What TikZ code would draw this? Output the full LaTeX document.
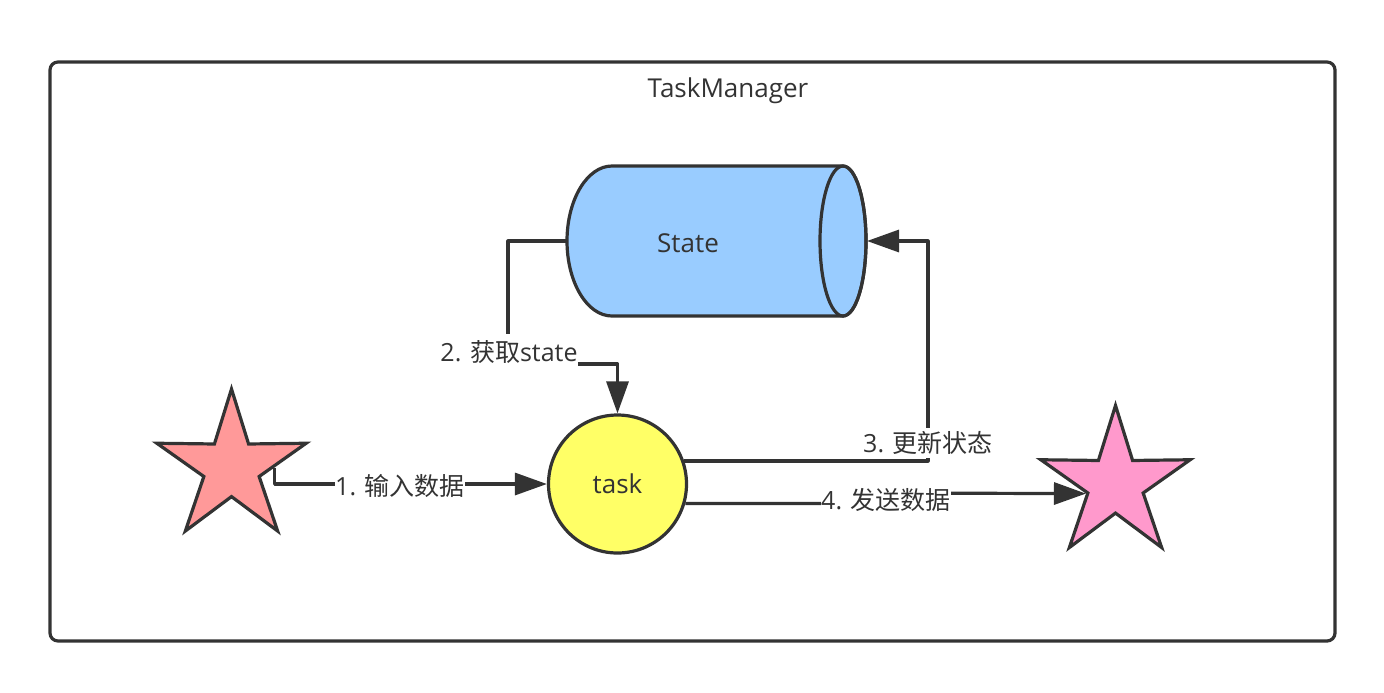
\documentclass[tikz,border=0pt]{standalone}
\usepackage{fontspec}
\setmainfont{Open Sans}
\newfontfamily\cjk{Noto Sans CJK SC}
\usetikzlibrary{arrows.meta,shapes.geometric}
\definecolor{ink}{HTML}{333333}
\definecolor{statefill}{HTML}{99CCFF}
\definecolor{taskfill}{HTML}{FFFF66}
\definecolor{srcfill}{HTML}{FF9999}
\definecolor{dstfill}{HTML}{FF99CC}
\tikzset{
  edge/.style={draw=ink,line width=1.6pt},
  lbl/.style={fill=white,inner xsep=0pt,inner ysep=1.8pt,text=ink,font=\fontsize{12.5}{14}\selectfont},
  starnode/.style={star,star points=5,star point ratio=2.7,minimum size=78.5pt,inner sep=0pt,
    draw=ink,line width=1.6pt,line join=miter},
}
\begin{document}
\begin{tikzpicture}[x=.5pt,y=-.5pt,>={Triangle[length=16pt,width=11pt]},line join=round,
  font=\fontsize{13}{15}\selectfont]
	\useasboundingbox (0,0) rectangle (1384,692);
	\node (tm) [draw=ink,line width=1.6pt,rounded corners=4pt,minimum width=642.5pt,minimum height=289.5pt,inner sep=0pt] at (692.5,351.5) {};
	\node (title) [text=ink] at (728,91) {TaskManager};
	\draw[edge,fill=statefill] (612,166) -- (843,166)
		arc[start angle=-90,end angle=90,x radius=23,y radius=75] -- (612,316)
		arc[start angle=90,end angle=270,x radius=45,y radius=75] -- cycle;
	\draw[edge] (843,241) ellipse[x radius=23,y radius=75];
	\node (state) [minimum width=150pt,minimum height=75pt,inner sep=0pt,outer sep=0pt] at (717,241) {};
	\node (statetxt) [text=ink] at (688,243) {State};
	\node (task) [circle,draw=ink,line width=1.6pt,fill=taskfill,minimum size=69pt,inner sep=0pt,text=ink] at (617.5,484) {task};
	\node (src) [starnode,fill=srcfill] at (231.5,467.5) {};
	\node (dst) [starnode,fill=dstfill] at (1115.5,484) {};
	\coordinate (bend2) at (508,364);
	\coordinate (bend3) at (928,241);
	\coordinate (jog4) at (886,493);
	\draw[edge,->] (src.0) |- (task.west);
	\draw[edge,->] (state.west) -| (bend2) -| (task.north);
	\draw[edge,->] (task.19) -| (bend3) -- (state.east);
	\draw[edge,->] (task.-16) -| (jog4) -- (dst.inner point 2);
	\node (l1) [lbl] at (400,486) {1. {\cjk 输入数据}};
	\node (l2) [lbl,inner ysep=3.2pt] at (509,352) {2. {\cjk 获取}state};
	\node (l3) [lbl] at (928,443) {3. {\cjk 更新状态}};
	\node (l4) [lbl] at (886,500) {4. {\cjk 发送数据}};
\end{tikzpicture}
\end{document}
